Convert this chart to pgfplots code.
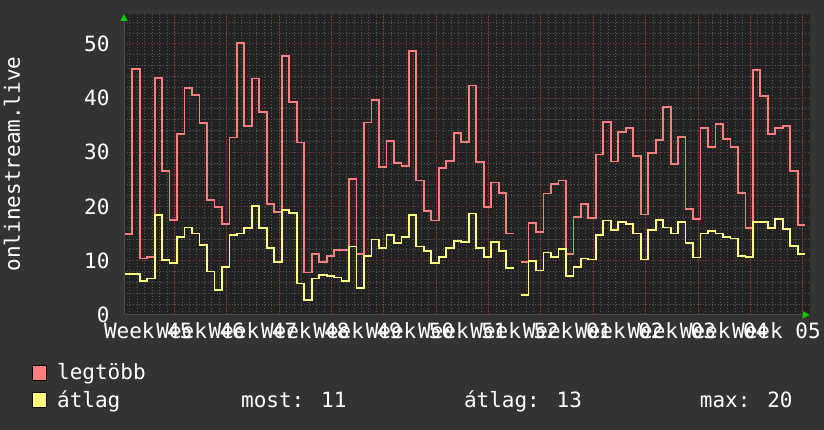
\documentclass[border=0pt]{standalone}
\usepackage{pgfplots}
\pgfplotsset{compat=1.18}
\usepackage{pgfplotstable}
\usepackage{fontspec}
\setmainfont{DejaVu Sans Mono}
\usetikzlibrary{arrows.meta}
\definecolor{canvas}{HTML}{333333}
\definecolor{plotbg}{HTML}{222222}
\definecolor{redl}{HTML}{FF7F7F}
\definecolor{yell}{HTML}{FFFF7F}
\definecolor{majgrid}{HTML}{863A3A}
\definecolor{mingrid}{HTML}{585858}
\definecolor{arrowgreen}{HTML}{00CC00}

\pgfplotstableread{
x y
0 14.9
1 45.4
2 10.4
3 10.7
4 43.7
5 26.6
6 17.5
7 33.4
8 41.8
9 40.5
10 35.4
11 21.2
12 19.9
13 16.7
14 32.7
15 50.1
16 34.8
17 43.6
18 37.4
19 20.4
20 19.0
21 47.7
22 39.3
23 31.8
24 7.8
25 11.2
26 9.8
27 10.9
28 12.0
29 12.0
30 25.0
31 11.2
32 35.5
33 39.6
34 27.3
35 32.1
36 28.0
37 27.4
38 48.7
39 24.8
40 19.2
41 17.4
42 27.1
43 28.4
44 33.6
45 31.9
46 42.3
47 28.2
48 19.9
49 24.4
50 22.5
51 15.0
52 15.0
}\redA

\pgfplotstableread{
x y
53 9.8
54 16.9
55 15.3
56 22.4
57 24.2
58 24.8
59 11.3
60 18.0
61 20.4
62 17.8
63 29.6
64 35.6
65 28.3
66 33.7
67 34.4
68 29.3
69 18.5
70 29.8
71 32.2
72 38.3
73 27.8
74 32.8
75 19.6
76 17.7
77 34.5
78 30.9
79 35.2
80 32.5
81 31.0
82 22.5
83 16.0
84 45.1
85 40.3
86 33.4
87 34.4
88 34.8
89 26.6
90 16.6
91 16.6
}\redB

\pgfplotstableread{
x y
0 7.5
1 7.5
2 6.3
3 6.7
4 18.4
5 10.1
6 9.5
7 14.4
8 16.1
9 15.0
10 12.9
11 8.0
12 4.6
13 8.9
14 14.7
15 15.0
16 16.0
17 20.1
18 16.0
19 12.3
20 9.8
21 19.3
22 18.8
23 5.8
24 2.8
25 6.7
26 7.4
27 7.2
28 6.9
29 6.3
30 12.6
31 4.9
32 10.9
33 13.9
34 12.3
35 14.7
36 13.2
37 14.4
38 18.4
39 12.6
40 11.8
41 9.5
42 10.7
43 12.3
44 13.6
45 13.5
46 18.7
47 12.4
48 10.7
49 13.5
50 11.8
51 8.7
52 8.7
}\yelA

\pgfplotstableread{
x y
53 3.7
54 10.0
55 8.2
56 11.5
57 10.7
58 12.1
59 7.2
60 8.9
61 10.4
62 10.2
63 14.8
64 17.4
65 15.6
66 17.1
67 16.7
68 15.0
69 10.2
70 15.6
71 17.5
72 16.1
73 15.0
74 17.2
75 13.2
76 10.6
77 15.0
78 15.5
79 15.0
80 14.3
81 14.1
82 10.9
83 10.7
84 17.2
85 17.2
86 16.0
87 17.7
88 15.8
89 12.7
90 11.2
91 11.2
}\yelB

\begin{document}
\begin{tikzpicture}[font=\fontsize{21}{25}\selectfont]
\fill[canvas] (0,0) rectangle (824pt,430pt);
\begin{axis}[
  at={(124pt,115pt)}, anchor=south west,
  scale only axis, width=686pt, height=301pt,
  xmin=-0.1, xmax=91.6, ymin=0, ymax=55.5,
  axis background/.style={fill=plotbg},
  axis x line*=bottom, axis y line*=left,
  axis line style={draw=gray!60!black, line width=0.8pt},
  x axis line style={-{Triangle[color=arrowgreen,length=7pt,width=7pt]}},
  y axis line style={-{Triangle[color=arrowgreen,length=7pt,width=7pt]}},
  xtick={3.15,10.15,...,87.15},
  xticklabels={Week 45,Week 46,Week 47,Week 48,Week 49,Week 50,Week 51,Week 52,Week 01,Week 02,Week 03,Week 04,Week 05},
  minor xtick={0.65,1.65,...,91.65},
  extra x ticks={6.65,13.65,20.65,27.65,34.65,41.65,48.65,55.65,62.65,69.65,76.65,83.65,90.65},
  extra x tick labels={},
  extra x tick style={grid=major},
  ytick={0,10,...,50},
  minor ytick={2,4,...,54},
  xmajorgrids=false, ymajorgrids=true,
  xminorgrids=true, yminorgrids=true,
  major tick length=0pt, minor tick length=0pt,
  major grid style={majgrid, line width=0.8pt, dash pattern=on 1.5pt off 1.5pt},
  minor grid style={mingrid, line width=0.8pt, dash pattern=on 1pt off 2pt},
  tick label style={font=\fontsize{21}{25}\selectfont, text=white},
  /pgf/number format/assume math mode=true,
  yticklabel style={xshift=-11pt},
  xticklabel style={yshift=-4pt},
  clip=false,
]
\addplot[const plot, redl, line width=1.8pt] table {\redA};
\addplot[const plot, redl, line width=1.8pt] table {\redB};
\addplot[const plot, yell, line width=1.8pt] table {\yelA};
\addplot[const plot, yell, line width=1.8pt] table {\yelB};
\end{axis}
\node[rotate=90, text=white, anchor=center] at (12pt,266pt) {onlinestream.live};
\fill[redl, draw=black, line width=0.8pt] (32pt,49pt) rectangle (46pt,64pt);
\fill[yell, draw=black, line width=0.8pt] (32pt,22pt) rectangle (46pt,37pt);
\node[text=white, anchor=base west, inner sep=0pt] at (57pt,50pt) {legtöbb};
\node[text=white, anchor=base west, inner sep=0pt] at (57pt,22pt) {átlag};
\node[text=white, anchor=base west, inner sep=0pt] at (241pt,22pt) {most: 11};
\node[text=white, anchor=base west, inner sep=0pt] at (464pt,22pt) {átlag: 13};
\node[text=white, anchor=base west, inner sep=0pt] at (700pt,22pt) {max: 20};
\end{tikzpicture}
\end{document}
